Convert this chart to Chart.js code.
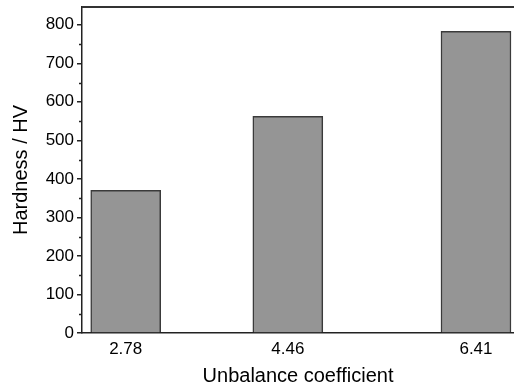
<!DOCTYPE html>
<html>
<head>
<meta charset="utf-8">
<script src="https://cdn.jsdelivr.net/npm/chart.js@4/dist/chart.umd.min.js"></script>
<style>
html,body{margin:0;padding:0;background:#fff;overflow:hidden;}
#wrap{width:514px;height:388px;position:relative;}
</style>
</head>
<body>
<div id="wrap"><canvas id="c" width="514" height="388"></canvas></div>
<script>
const coefficients = [2.78, 4.46, 6.41];
const hardness = [370, 562, 783];
const yMajorTicks = [0, 100, 200, 300, 400, 500, 600, 700, 800];
const yMinorTicks = [50, 150, 250, 350, 450, 550, 650, 750];
const xTitle = 'Unbalance coefficient';
const yTitle = 'Hardness / HV';

const FONT = "'Liberation Sans', Arial, sans-serif";

const extras = {
  id: 'extras',
  afterDraw(chart) {
    const ctx = chart.ctx;
    const y = chart.scales.y;
    const a = chart.chartArea;
    ctx.save();
    ctx.strokeStyle = '#222';
    ctx.lineWidth = 1.5;
    ctx.beginPath();
    yMinorTicks.forEach(v => {
      const py = Math.round(y.getPixelForValue(v)) + 0.5;
      ctx.moveTo(a.left - 3, py);
      ctx.lineTo(a.left, py);
    });
    ctx.stroke();
    ctx.strokeStyle = '#333';
    ctx.lineWidth = 2;
    ctx.beginPath();
    ctx.moveTo(a.left, a.top);
    ctx.lineTo(a.right, a.top);
    ctx.stroke();
    ctx.restore();
  }
};

new Chart(document.getElementById('c'), {
  type: 'bar',
  data: {
    datasets: [{
      data: coefficients.map((c, i) => ({ x: c, y: hardness[i] })),
      backgroundColor: '#959595',
      borderColor: '#3a3a3a',
      borderWidth: 1.5,
      barThickness: 70
    }]
  },
  options: {
    responsive: false,
    animation: false,
    layout: { padding: { top: 7, right: 0, left: 0, bottom: 0 } },
    plugins: { legend: { display: false }, tooltip: { enabled: false } },
    scales: {
      x: {
        type: 'linear',
        offset: false,
        min: 2.327,
        max: 6.804,
        afterBuildTicks: s => { s.ticks = coefficients.map(v => ({ value: v })); },
        afterFit: s => { s.height = 55; s.paddingLeft = 0; s.paddingRight = 0; },
        grid: { display: false, drawTicks: false },
        border: { display: true, color: '#222', width: 1.5 },
        ticks: {
          color: '#000',
          font: { family: FONT, size: 17 },
          padding: 6,
          maxRotation: 0,
          callback: v => v.toFixed(2)
        },
        title: {
          display: true,
          text: xTitle,
          color: '#000',
          font: { family: FONT, size: 20 },
          padding: { top: 1, bottom: 0 }
        }
      },
      y: {
        min: 0,
        max: 846,
        afterBuildTicks: s => { s.ticks = yMajorTicks.map(v => ({ value: v })); },
        afterFit: s => { s.width = 82; s.paddingTop = 0; s.paddingBottom = 0; },
        grid: { drawOnChartArea: false, drawTicks: true, tickLength: 5, color: '#222', lineWidth: 1.5 },
        border: { display: true, color: '#222', width: 1.5 },
        ticks: {
          color: '#000',
          font: { family: FONT, size: 17 },
          padding: 3
        },
        title: {
          display: true,
          text: yTitle,
          color: '#000',
          font: { family: FONT, size: 20 },
          padding: { top: 9, bottom: 0 }
        }
      }
    }
  },
  plugins: [extras]
});
</script>
</body>
</html>
